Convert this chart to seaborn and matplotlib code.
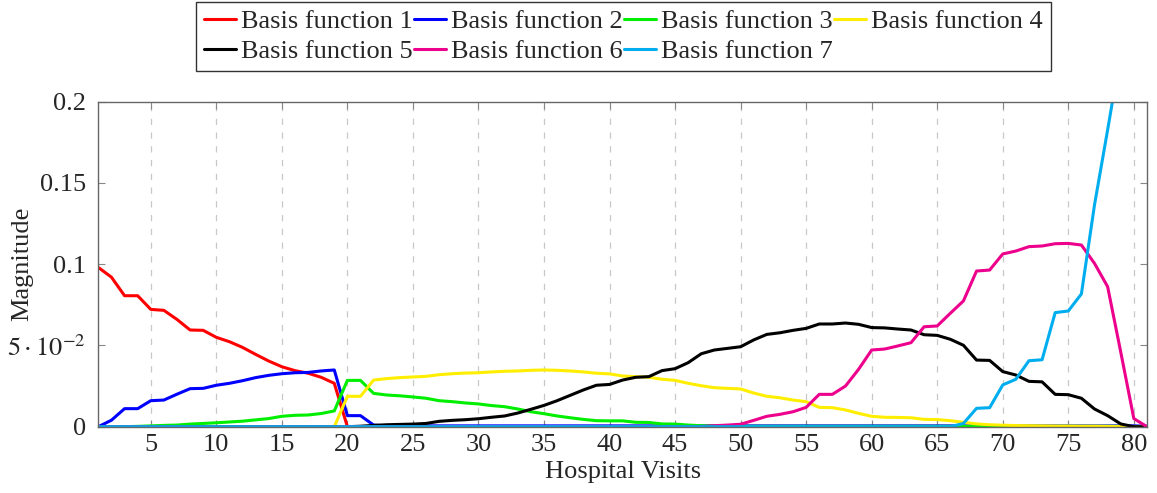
import numpy as np
import pandas as pd
import seaborn as sns
import matplotlib
matplotlib.use("Agg")
import matplotlib.pyplot as plt

visits = list(range(1, 82))

basis_1 = [0.098, 0.092, 0.0806, 0.0806, 0.0722, 0.0716, 0.066, 0.0595, 0.0593, 0.055,
           0.0523, 0.0488, 0.0445, 0.0404, 0.0369, 0.0345, 0.0329, 0.0304, 0.0267, 0.0,
           0, 0, 0, 0, 0, 0, 0, 0, 0, 0,
           0, 0, 0, 0, 0, 0, 0, 0, 0, 0,
           0, 0, 0, 0, 0, 0, 0, 0, 0, 0,
           0, 0, 0, 0, 0, 0, 0, 0, 0, 0,
           0, 0, 0, 0, 0, 0, 0, 0, 0, 0,
           0, 0, 0, 0, 0, 0, 0, 0, 0, 0,
           0]
basis_2 = [0.0, 0.004, 0.0111, 0.0111, 0.016, 0.0164, 0.02, 0.0234, 0.0236, 0.0255,
           0.0267, 0.0283, 0.0302, 0.0316, 0.0326, 0.0332, 0.0334, 0.0343, 0.0349, 0.0068,
           0.0068, 0.001, 0.0005, 0.0005, 0.0005, 0.0005, 0.0005, 0.0005, 0.0005, 0.0005,
           0.0005, 0.0005, 0.0005, 0.0005, 0.0005, 0.0005, 0.0005, 0.0005, 0.0005, 0.0005,
           0.0005, 0.0005, 0.0005, 0.0005, 0.0005, 0.0005, 0.0005, 0.0005, 0.0005, 0.0005,
           0.0005, 0.0005, 0.0005, 0.0005, 0.0005, 0.0005, 0.0005, 0.0005, 0.0005, 0.0005,
           0.0005, 0.0005, 0.0005, 0.0005, 0.0005, 0.0005, 0.0005, 0.0005, 0.0005, 0.0005,
           0.0005, 0.0005, 0.0005, 0.0005, 0.0005, 0.0005, 0.0005, 0.0005, 0.0005, 0.0005,
           0.0003]
basis_3 = [0.0, 0.0, 0.0, 0.0002, 0.0005, 0.0008, 0.001, 0.0016, 0.002, 0.0024,
           0.0029, 0.0034, 0.0042, 0.005, 0.0064, 0.007, 0.0072, 0.0081, 0.0097, 0.0285,
           0.0285, 0.0205, 0.0195, 0.019, 0.0183, 0.0175, 0.016, 0.0154, 0.0146, 0.014,
           0.013, 0.0123, 0.0109, 0.0092, 0.008, 0.0066, 0.0055, 0.0045, 0.0037, 0.0036,
           0.0036, 0.0027, 0.0026, 0.0017, 0.0016, 0.001, 0.0006, 0.0004, 0.0003, 0.0002,
           0.0002, 0.0002, 0.0002, 0.0002, 0.0002, 0.0002, 0.0002, 0.0002, 0.0002, 0.0002,
           0.0002, 0.0002, 0.0002, 0.0002, 0.0002, 0.0002, 0.0002, 0.0002, 0.0002, 0.0002,
           0.0002, 0.0002, 0.0002, 0.0002, 0.0002, 0.0002, 0.0002, 0.0002, 0.0002, 0.0001,
           0.0]
basis_4 = [0, 0, 0, 0, 0, 0, 0, 0, 0, 0,
           0, 0, 0, 0, 0, 0, 0, 0, 0, 0.0187,
           0.0187, 0.0287, 0.0296, 0.0302, 0.0306, 0.031, 0.032, 0.0326, 0.033, 0.0332,
           0.0337, 0.0341, 0.0343, 0.0347, 0.0349, 0.0347, 0.0343, 0.0337, 0.0329, 0.0325,
           0.0312, 0.0308, 0.0304, 0.0292, 0.0285, 0.0267, 0.0252, 0.024, 0.0236, 0.0232,
           0.0207, 0.0187, 0.0178, 0.0164, 0.0154, 0.0119, 0.0117, 0.0103, 0.0082, 0.0064,
           0.0058, 0.0057, 0.0055, 0.0045, 0.0044, 0.0037, 0.0027, 0.0017, 0.0012, 0.0009,
           0.0007, 0.0006, 0.0005, 0.0004, 0.0004, 0.0003, 0.0003, 0.0002, 0.0001, 0.0,
           0.0]
basis_5 = [0, 0, 0, 0, 0, 0, 0, 0, 0, 0,
           0, 0, 0, 0, 0, 0, 0, 0, 0, 0,
           0.0003, 0.0008, 0.0012, 0.0014, 0.0016, 0.002, 0.0033, 0.0039, 0.0043, 0.0049,
           0.0058, 0.0066, 0.0084, 0.0107, 0.0131, 0.016, 0.0193, 0.0226, 0.0255, 0.026,
           0.0287, 0.0304, 0.0308, 0.0345, 0.0357, 0.0394, 0.0449, 0.0472, 0.0482, 0.0492,
           0.0534, 0.0568, 0.0578, 0.0593, 0.0605, 0.0632, 0.0632, 0.0638, 0.063, 0.061,
           0.0608, 0.0601, 0.0595, 0.0566, 0.0562, 0.0538, 0.0501, 0.041, 0.0408, 0.0339,
           0.0318, 0.0279, 0.0276, 0.0199, 0.0197, 0.0175, 0.0109, 0.0068, 0.0017, 0.0,
           0.0]
basis_6 = [0, 0, 0, 0, 0, 0, 0, 0, 0, 0,
           0, 0, 0, 0, 0, 0, 0, 0, 0, 0,
           0, 0, 0, 0, 0, 0, 0, 0, 0, 0,
           0, 0, 0, 0, 0, 0, 0, 0, 0, 0,
           0, 0, 0, 0, 0, 0, 0, 0.0006, 0.001, 0.0015,
           0.0039, 0.0064, 0.0076, 0.0092, 0.0119, 0.0199, 0.0199, 0.025, 0.0353, 0.0472,
           0.0478, 0.0497, 0.0517, 0.0615, 0.062, 0.0698, 0.0774, 0.0958, 0.0964, 0.1063,
           0.1081, 0.1108, 0.1112, 0.1126, 0.1128, 0.1118, 0.1005, 0.0862, 0.046, 0.005,
           0.0]
basis_7 = [0, 0, 0, 0, 0, 0, 0, 0, 0, 0,
           0, 0, 0, 0, 0, 0, 0, 0, 0, 0,
           0, 0, 0, 0, 0, 0, 0, 0, 0, 0,
           0, 0, 0, 0, 0, 0, 0, 0, 0, 0,
           0, 0, 0, 0, 0, 0, 0, 0, 0, 0,
           0, 0, 0, 0, 0, 0, 0, 0, 0, 0,
           0, 0, 0, 0, 0, 0, 0.002, 0.0113, 0.0117, 0.0257,
           0.0292, 0.0406, 0.0412, 0.0702, 0.0712, 0.0817, 0.1365, 0.1826, 0.23, 0.28,
           0.33]

series_names = ["Basis function 1", "Basis function 2", "Basis function 3",
                "Basis function 4", "Basis function 5", "Basis function 6",
                "Basis function 7"]
series_values = [basis_1, basis_2, basis_3, basis_4, basis_5, basis_6, basis_7]
colors = ["#ff0000", "#0000ff", "#00ee00", "#ffee00", "#000000", "#ec008c", "#00aeef"]

x_ticks = [5, 10, 15, 20, 25, 30, 35, 40, 45, 50, 55, 60, 65, 70, 75, 80]
y_ticks = [0, 0.05, 0.1, 0.15, 0.2]
y_tick_labels = ["0", r"$5\cdot10^{-2}$", "0.1", "0.15", "0.2"]

frames = []
for name, vals in zip(series_names, series_values):
    frames.append(pd.DataFrame({"Hospital Visits": visits, "Magnitude": vals, "series": name}))
df = pd.concat(frames, ignore_index=True)

sns.set_theme(style="white")
plt.rcParams["font.family"] = ["Liberation Serif", "DejaVu Serif"]
plt.rcParams["mathtext.fontset"] = "stix"

fig = plt.figure(figsize=(11.57, 4.93), dpi=100)
ax = fig.add_axes([0.085, 0.1345, 0.9913 - 0.085, 0.7937 - 0.1345])

sns.lineplot(data=df, x="Hospital Visits", y="Magnitude", hue="series",
             palette=dict(zip(series_names, colors)), hue_order=series_names,
             estimator=None, sort=False, linewidth=2.2, ax=ax, legend=True)

ax.set_xlim(1, 81)
ax.set_ylim(0, 0.2)
ax.set_xticks(x_ticks)
ax.set_xticklabels([str(t) for t in x_ticks])
ax.set_yticks(y_ticks)
ax.set_yticklabels(y_tick_labels)
ax.tick_params(axis="both", direction="in", length=5, width=0.8, color="#888888",
               labelsize=19, top=True, right=True, left=True, bottom=True)
ax.tick_params(axis="y", pad=9)
ax.tick_params(axis="x", pad=5)
ax.xaxis.grid(True, linestyle=(0, (5, 6)), color="#c8c8c8", linewidth=0.9)
ax.yaxis.grid(False)
for s in ax.spines.values():
    s.set_color("#666666")
    s.set_linewidth(1.0)
ax.set_xlabel("Hospital Visits", fontsize=19)
ax.set_ylabel("Magnitude", fontsize=19)
ax.yaxis.set_label_coords(-0.062, 0.5)
ax.xaxis.set_label_coords(0.5, -0.105)

handles, labels = ax.get_legend_handles_labels()
ax.get_legend().remove()
order = [0, 4, 1, 5, 2, 6, 3]
fig.legend([handles[i] for i in order], [labels[i] for i in order],
           loc="upper center", bbox_to_anchor=(0.539, 0.996), ncol=4,
           frameon=True, fancybox=False, edgecolor="black", fontsize=19,
           handlelength=1.2, handletextpad=0.2, columnspacing=0.05,
           borderpad=0.3, labelspacing=0.25, borderaxespad=0)

fig.savefig("out.png", dpi=100)
